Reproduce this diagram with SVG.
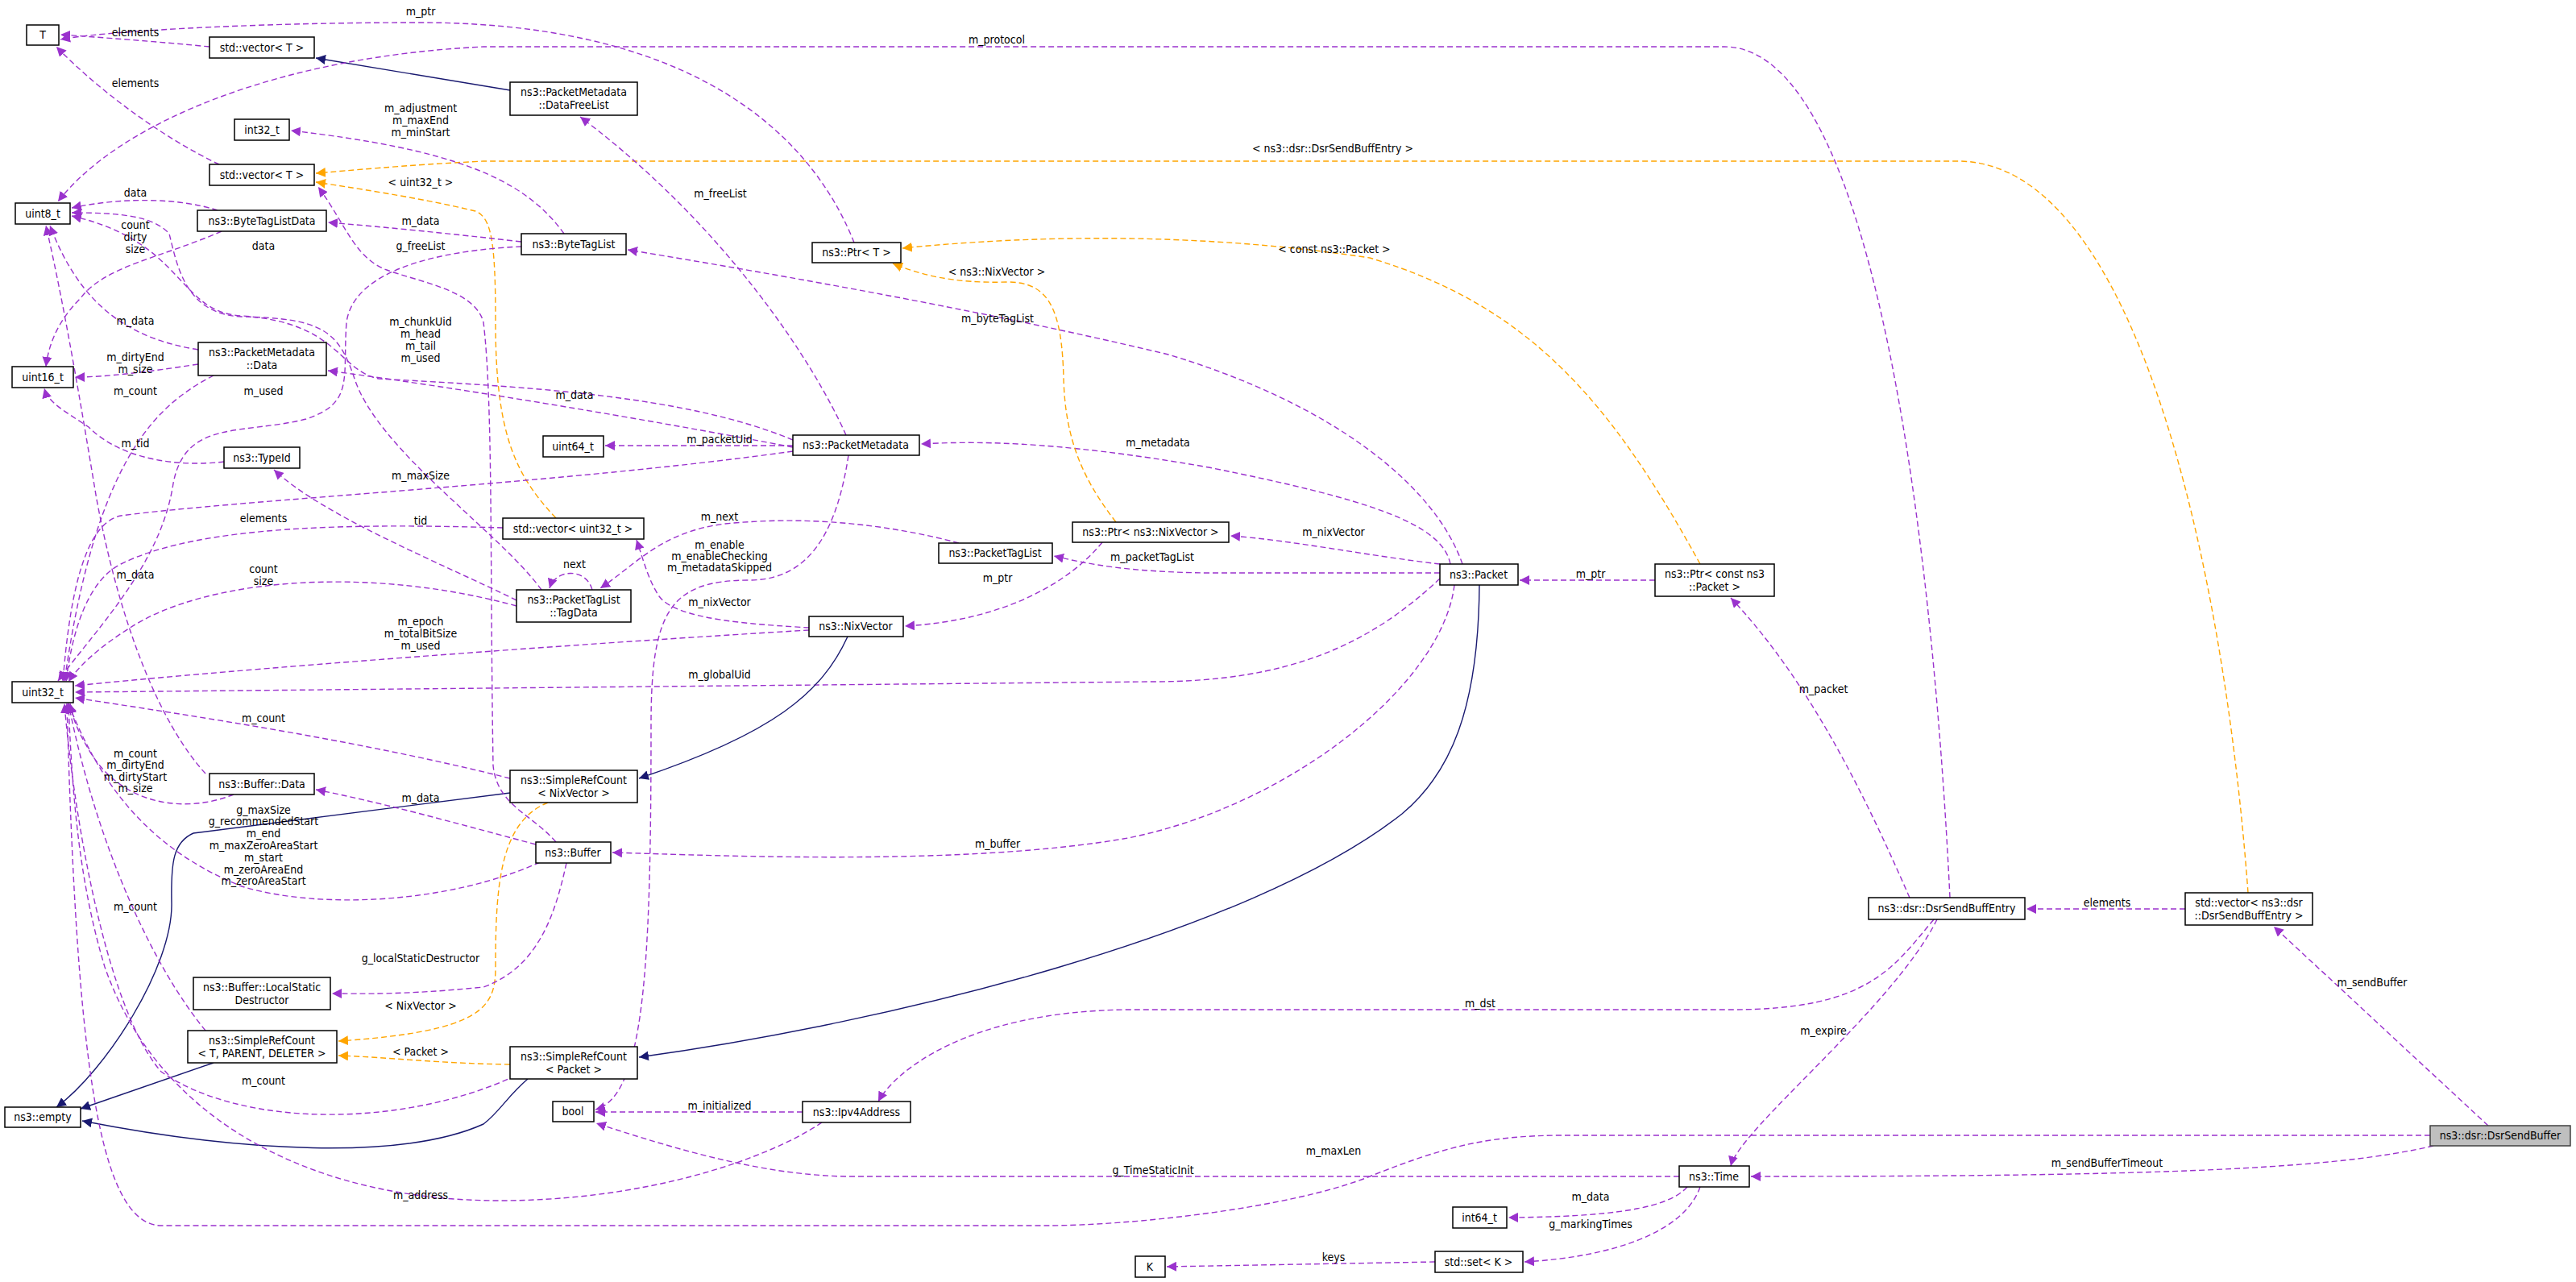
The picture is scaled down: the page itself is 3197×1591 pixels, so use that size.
<svg xmlns="http://www.w3.org/2000/svg" width="3197" height="1591" viewBox="0 0 3197 1591">
<style>
text{font-family:"DejaVu Sans Condensed","DejaVu Sans","Liberation Sans",sans-serif;font-stretch:condensed;font-size:14px;fill:#000;text-anchor:middle}
.n rect{fill:#fff;stroke:#000;stroke-width:1.5}
.g rect{fill:#bfbfbf;stroke:#404040;stroke-width:1.5}
.e path{fill:none;stroke-width:1.4}
.p{stroke:#9a32cd;stroke-dasharray:7,4}
.o{stroke:#ffa500;stroke-dasharray:7,4}
.v{stroke:#191970}
</style>
<defs>
<marker id="mp" viewBox="0 0 10 10" refX="10" refY="5" markerWidth="12" markerHeight="12" markerUnits="userSpaceOnUse" orient="auto"><path d="M0,0L10,5L0,10z" fill="#9a32cd"/></marker>
<marker id="mo" viewBox="0 0 10 10" refX="10" refY="5" markerWidth="12" markerHeight="12" markerUnits="userSpaceOnUse" orient="auto"><path d="M0,0L10,5L0,10z" fill="#ffa500"/></marker>
<marker id="mv" viewBox="0 0 10 10" refX="10" refY="5" markerWidth="12" markerHeight="12" markerUnits="userSpaceOnUse" orient="auto"><path d="M0,0L10,5L0,10z" fill="#191970"/></marker>
</defs>
<rect width="3197" height="1591" fill="#fff"/>
<g id="connectors" class="e">
<path class="p" marker-end="url(#mp)" d="M260,58 C200,52 120,46 75,43"/>
<path class="p" marker-end="url(#mp)" d="M272,204 C200,170 120,110 70,58"/>
<path class="v" marker-end="url(#mv)" d="M633,112 L392,72"/>
<path class="p" marker-end="url(#mp)" d="M1060,301 C1020,200 900,28 520,28 C300,28 120,40 75,49"/>
<path class="p" marker-end="url(#mp)" d="M2420,1114 C2400,700 2330,58 2140,58 L600,58 C350,70 150,150 72,250"/>
<path class="o" marker-end="url(#mo)" d="M2790,1108 C2760,700 2650,200 2430,200 L600,200 C500,205 430,212 392,215"/>
<path class="o" marker-end="url(#mo)" d="M690,643 C640,590 615,540 615,400 C615,300 610,270 590,262 C520,245 430,232 392,226"/>
<path class="p" marker-end="url(#mp)" d="M700,290 C650,220 560,185 361,162"/>
<path class="p" marker-end="url(#mp)" d="M647,300 C560,290 480,282 407,276"/>
<path class="p" marker-end="url(#mp)" d="M647,306 C560,310 440,330 430,400 C425,470 440,500 380,520 C300,540 230,520 215,600 C200,700 120,780 72,845"/>
<path class="p" marker-end="url(#mp)" d="M270,261 C220,245 150,245 89,258"/>
<path class="p" marker-end="url(#mp)" d="M275,287 C200,320 130,330 100,370 C70,400 60,430 57,455"/>
<path class="p" marker-end="url(#mp)" d="M246,434 C160,420 100,380 62,280"/>
<path class="p" marker-end="url(#mp)" d="M246,452 C180,462 130,468 93,468"/>
<path class="p" marker-end="url(#mp)" d="M265,466 C200,500 120,560 80,846"/>
<path class="p" marker-end="url(#mp)" d="M984,555 C800,520 560,480 407,460"/>
<path class="p" marker-end="url(#mp)" d="M984,546 C850,490 650,480 470,470 C420,460 420,400 300,392 C220,388 230,300 89,268"/>
<path class="p" marker-end="url(#mp)" d="M984,553 L751,553"/>
<path class="p" marker-end="url(#mp)" d="M984,560 C700,600 300,620 150,640 C100,650 85,760 78,846"/>
<path class="p" marker-end="url(#mp)" d="M1050,540 C1010,450 900,280 720,145"/>
<path class="p" marker-end="url(#mp)" d="M1053,565 C1040,650 1010,720 930,720 C830,720 808,760 808,900 C808,1200 800,1360 739,1377"/>
<path class="p" marker-end="url(#mp)" d="M1190,674 C1100,650 1000,640 900,650 C820,660 790,700 745,730"/>
<path class="p" marker-end="url(#mp)" d="M735,732 C728,705 690,705 682,730"/>
<path class="p" marker-end="url(#mp)" d="M1004,779 C940,775 840,770 818,740 C805,720 800,700 790,670"/>
<path class="p" marker-end="url(#mp)" d="M641,745 C550,700 400,640 340,583"/>
<path class="p" marker-end="url(#mp)" d="M641,752 C450,700 250,720 160,780 C120,805 95,830 85,846"/>
<path class="p" marker-end="url(#mp)" d="M624,655 C450,650 250,650 150,700 C110,720 90,780 82,846"/>
<path class="p" marker-end="url(#mp)" d="M1004,782 C700,800 300,830 93,851"/>
<path class="p" marker-end="url(#mp)" d="M1787,718 C1700,800 1600,846 1430,846 L93,859"/>
<path class="p" marker-end="url(#mp)" d="M1368,673 C1330,720 1250,770 1123,777"/>
<path class="p" marker-end="url(#mp)" d="M1787,700 C1700,690 1600,670 1527,665"/>
<path class="p" marker-end="url(#mp)" d="M1787,711 L1500,711 C1400,710 1350,700 1308,690"/>
<path class="p" marker-end="url(#mp)" d="M1800,700 C1790,650 1700,620 1500,580 C1300,545 1200,548 1143,551"/>
<path class="p" marker-end="url(#mp)" d="M1815,700 C1780,600 1650,500 1450,440 C1200,380 900,330 779,310"/>
<path class="o" marker-end="url(#mo)" d="M1385,648 C1340,590 1322,540 1320,470 C1318,380 1300,350 1250,350 C1180,352 1140,340 1108,327"/>
<path class="o" marker-end="url(#mo)" d="M2110,700 C2000,500 1900,380 1700,320 C1500,290 1300,290 1120,308"/>
<path class="p" marker-end="url(#mp)" d="M2054,720 L1886,720"/>
<path class="p" marker-end="url(#mp)" d="M1805,726 C1790,850 1600,1000 1400,1040 C1200,1075 900,1062 760,1058"/>
<path class="v" marker-end="url(#mv)" d="M1836,726 C1835,880 1800,960 1740,1010 C1550,1160 1100,1270 793,1312"/>
<path class="v" marker-end="url(#mv)" d="M633,984 L240,1034 C215,1045 212,1070 213,1120 C215,1200 130,1330 70,1374"/>
<path class="v" marker-end="url(#mv)" d="M1052,790 C1020,860 960,910 793,966"/>
<path class="v" marker-end="url(#mv)" d="M265,1319 L100,1376"/>
<path class="v" marker-end="url(#mv)" d="M655,1339 C630,1360 620,1380 600,1395 C500,1440 300,1430 102,1391"/>
<path class="o" marker-end="url(#mo)" d="M680,996 C620,1020 615,1100 615,1200 C615,1250 600,1280 420,1292"/>
<path class="o" marker-end="url(#mo)" d="M633,1321 C550,1320 480,1312 420,1310"/>
<path class="p" marker-end="url(#mp)" d="M255,1279 C190,1200 120,1050 85,873"/>
<path class="p" marker-end="url(#mp)" d="M640,1335 C500,1400 300,1400 200,1330 C130,1250 90,1000 80,873"/>
<path class="p" marker-end="url(#mp)" d="M633,966 C450,920 250,890 93,866"/>
<path class="p" marker-end="url(#mp)" d="M290,986 C230,1010 150,1000 110,930 C95,905 90,890 87,873"/>
<path class="p" marker-end="url(#mp)" d="M255,960 C200,900 150,780 120,620 C100,500 80,380 57,280"/>
<path class="p" marker-end="url(#mp)" d="M665,1048 C560,1020 470,995 392,980"/>
<path class="p" marker-end="url(#mp)" d="M670,1070 C560,1120 400,1130 300,1100 C200,1060 130,990 85,873"/>
<path class="p" marker-end="url(#mp)" d="M703,1071 C690,1130 670,1200 600,1225 C500,1235 450,1233 412,1233"/>
<path class="p" marker-end="url(#mp)" d="M690,1045 C660,1010 617,1000 612,950 C608,700 612,500 600,400 C590,360 520,350 480,335 C440,320 430,280 395,232"/>
<path class="p" marker-end="url(#mp)" d="M672,732 C620,660 470,560 440,470 C420,410 400,395 300,393 C230,390 220,330 210,290 C190,268 150,264 89,264"/>
<path class="p" marker-end="url(#mp)" d="M278,573 C220,580 150,570 110,530 C80,510 60,500 55,482"/>
<path class="p" marker-end="url(#mp)" d="M3088,1397 L2822,1150"/>
<path class="p" marker-end="url(#mp)" d="M2712,1128 L2515,1128"/>
<path class="p" marker-end="url(#mp)" d="M2370,1114 C2320,1000 2250,850 2148,742"/>
<path class="p" marker-end="url(#mp)" d="M2400,1141 C2350,1200 2320,1253 2150,1253 L1400,1253 C1200,1255 1110,1330 1090,1367"/>
<path class="p" marker-end="url(#mp)" d="M2404,1141 C2350,1250 2160,1400 2148,1447"/>
<path class="p" marker-end="url(#mp)" d="M3016,1409 L1935,1409 C1850,1410 1800,1420 1700,1460 C1600,1500 1400,1521 1300,1521 L200,1521 C120,1520 95,1300 83,873"/>
<path class="p" marker-end="url(#mp)" d="M3020,1422 C2900,1450 2700,1460 2173,1460"/>
<path class="p" marker-end="url(#mp)" d="M2084,1460 L1050,1460 C950,1458 850,1430 740,1394"/>
<path class="p" marker-end="url(#mp)" d="M996,1380 L739,1380"/>
<path class="p" marker-end="url(#mp)" d="M1020,1393 C950,1440 800,1490 620,1490 C400,1490 200,1400 130,1200 C100,1100 90,1000 85,873"/>
<path class="p" marker-end="url(#mp)" d="M2094,1473 C2070,1500 2000,1510 1872,1511"/>
<path class="p" marker-end="url(#mp)" d="M2110,1473 C2090,1530 2000,1560 1892,1566"/>
<path class="p" marker-end="url(#mp)" d="M1781,1566 L1448,1572"/>
</g>
<g id="labels">
<text x="168" y="45">elements</text>
<text x="168" y="108">elements</text>
<text x="522" y="19">m_ptr</text>
<text x="1237" y="54">m_protocol</text>
<text x="1654" y="189">&lt; ns3::dsr::DsrSendBuffEntry &gt;</text>
<text x="522" y="231">&lt; uint32_t &gt;</text>
<text x="522" y="139">m_adjustment</text><text x="522" y="154">m_maxEnd</text><text x="522" y="169">m_minStart</text>
<text x="522" y="279">m_data</text>
<text x="522" y="310">g_freeList</text>
<text x="327" y="490">m_used</text>
<text x="168" y="244">data</text>
<text x="168" y="284">count</text><text x="168" y="299">dirty</text><text x="168" y="314">size</text>
<text x="327" y="310">data</text>
<text x="168" y="403">m_data</text>
<text x="168" y="448">m_dirtyEnd</text><text x="168" y="463">m_size</text>
<text x="168" y="490">m_count</text>
<text x="713" y="495">m_data</text>
<text x="522" y="404">m_chunkUid</text><text x="522" y="419">m_head</text><text x="522" y="434">m_tail</text><text x="522" y="449">m_used</text>
<text x="893" y="550">m_packetUid</text>
<text x="522" y="595">m_maxSize</text>
<text x="894" y="245">m_freeList</text>
<text x="893" y="681">m_enable</text><text x="893" y="695">m_enableChecking</text><text x="893" y="709">m_metadataSkipped</text>
<text x="893" y="646">m_next</text>
<text x="713" y="705">next</text>
<text x="893" y="752">m_nixVector</text>
<text x="522" y="651">tid</text>
<text x="327" y="711">count</text><text x="327" y="726">size</text>
<text x="327" y="648">elements</text>
<text x="522" y="776">m_epoch</text><text x="522" y="791">m_totalBitSize</text><text x="522" y="806">m_used</text>
<text x="893" y="842">m_globalUid</text>
<text x="1238" y="722">m_ptr</text>
<text x="1655" y="665">m_nixVector</text>
<text x="1430" y="696">m_packetTagList</text>
<text x="1437" y="554">m_metadata</text>
<text x="1238" y="400">m_byteTagList</text>
<text x="1237" y="342">&lt; ns3::NixVector &gt;</text>
<text x="1656" y="314">&lt; const ns3::Packet &gt;</text>
<text x="1974" y="717">m_ptr</text>
<text x="1238" y="1052">m_buffer</text>
<text x="522" y="1253">&lt; NixVector &gt;</text>
<text x="522" y="1310">&lt; Packet &gt;</text>
<text x="168" y="1130">m_count</text>
<text x="327" y="1346">m_count</text>
<text x="327" y="896">m_count</text>
<text x="168" y="940">m_count</text><text x="168" y="954">m_dirtyEnd</text><text x="168" y="969">m_dirtyStart</text><text x="168" y="983">m_size</text>
<text x="168" y="718">m_data</text>
<text x="168" y="555">m_tid</text>
<text x="522" y="995">m_data</text>
<text x="327" y="1010">g_maxSize</text><text x="327" y="1024">g_recommendedStart</text><text x="327" y="1039">m_end</text><text x="327" y="1054">m_maxZeroAreaStart</text><text x="327" y="1069">m_start</text><text x="327" y="1084">m_zeroAreaEnd</text><text x="327" y="1098">m_zeroAreaStart</text>
<text x="522" y="1194">g_localStaticDestructor</text>
<text x="2944" y="1224">m_sendBuffer</text>
<text x="2615" y="1125">elements</text>
<text x="2263" y="860">m_packet</text>
<text x="1837" y="1250">m_dst</text>
<text x="2263" y="1284">m_expire</text>
<text x="1655" y="1433">m_maxLen</text>
<text x="2615" y="1448">m_sendBufferTimeout</text>
<text x="1431" y="1457">g_TimeStaticInit</text>
<text x="893" y="1377">m_initialized</text>
<text x="522" y="1488">m_address</text>
<text x="1974" y="1490">m_data</text>
<text x="1974" y="1524">g_markingTimes</text>
<text x="1655" y="1565">keys</text>
</g>
<g id="n_T" class="n"><rect x="33" y="31" width="40" height="25"/><text x="53" y="48">T</text></g>
<g id="n_vecT1" class="n"><rect x="260" y="46" width="130" height="26"/><text x="325" y="64">std::vector&lt; T &gt;</text></g>
<g id="n_dfl" class="n"><rect x="633" y="102" width="158" height="41"/><text x="712" y="119">ns3::PacketMetadata</text><text x="712" y="135">::DataFreeList</text></g>
<g id="n_int32" class="n"><rect x="291" y="148" width="68" height="26"/><text x="325" y="166">int32_t</text></g>
<g id="n_vecT2" class="n"><rect x="260" y="204" width="130" height="26"/><text x="325" y="222">std::vector&lt; T &gt;</text></g>
<g id="n_uint8" class="n"><rect x="19" y="252" width="68" height="26"/><text x="53" y="270">uint8_t</text></g>
<g id="n_btld" class="n"><rect x="245" y="261" width="160" height="26"/><text x="325" y="279">ns3::ByteTagListData</text></g>
<g id="n_btl" class="n"><rect x="647" y="290" width="130" height="26"/><text x="712" y="308">ns3::ByteTagList</text></g>
<g id="n_pmdata" class="n"><rect x="246" y="425" width="159" height="41"/><text x="325" y="442">ns3::PacketMetadata</text><text x="325" y="458">::Data</text></g>
<g id="n_uint16" class="n"><rect x="15" y="455" width="76" height="26"/><text x="53" y="473">uint16_t</text></g>
<g id="n_ptrT" class="n"><rect x="1008" y="301" width="110" height="25"/><text x="1063" y="318">ns3::Ptr&lt; T &gt;</text></g>
<g id="n_pm" class="n"><rect x="984" y="540" width="157" height="25"/><text x="1062" y="557">ns3::PacketMetadata</text></g>
<g id="n_uint64" class="n"><rect x="674" y="541" width="75" height="26"/><text x="711" y="559">uint64_t</text></g>
<g id="n_typeid" class="n"><rect x="278" y="555" width="94" height="26"/><text x="325" y="573">ns3::TypeId</text></g>
<g id="n_vecu32" class="n"><rect x="624" y="643" width="175" height="26"/><text x="711" y="661">std::vector&lt; uint32_t &gt;</text></g>
<g id="n_ptrnix" class="n"><rect x="1331" y="648" width="194" height="25"/><text x="1428" y="665">ns3::Ptr&lt; ns3::NixVector &gt;</text></g>
<g id="n_ptl" class="n"><rect x="1165" y="674" width="141" height="25"/><text x="1235" y="691">ns3::PacketTagList</text></g>
<g id="n_packet" class="n"><rect x="1787" y="700" width="97" height="26"/><text x="1835" y="718">ns3::Packet</text></g>
<g id="n_ptrcp" class="n"><rect x="2054" y="700" width="148" height="40"/><text x="2128" y="717">ns3::Ptr&lt; const ns3</text><text x="2128" y="733">::Packet &gt;</text></g>
<g id="n_tagdata" class="n"><rect x="641" y="732" width="142" height="40"/><text x="712" y="749">ns3::PacketTagList</text><text x="712" y="765">::TagData</text></g>
<g id="n_nix" class="n"><rect x="1004" y="765" width="117" height="25"/><text x="1062" y="782">ns3::NixVector</text></g>
<g id="n_uint32" class="n"><rect x="15" y="846" width="76" height="26"/><text x="53" y="864">uint32_t</text></g>
<g id="n_bufdata" class="n"><rect x="260" y="960" width="130" height="26"/><text x="325" y="978">ns3::Buffer::Data</text></g>
<g id="n_srcnix" class="n"><rect x="633" y="956" width="158" height="40"/><text x="712" y="973">ns3::SimpleRefCount</text><text x="712" y="989">&lt; NixVector &gt;</text></g>
<g id="n_buffer" class="n"><rect x="665" y="1045" width="93" height="26"/><text x="711" y="1063">ns3::Buffer</text></g>
<g id="n_dsrentry" class="n"><rect x="2319" y="1114" width="194" height="27"/><text x="2416" y="1132">ns3::dsr::DsrSendBuffEntry</text></g>
<g id="n_vecdsr" class="n"><rect x="2712" y="1108" width="158" height="40"/><text x="2791" y="1125">std::vector&lt; ns3::dsr</text><text x="2791" y="1141">::DsrSendBuffEntry &gt;</text></g>
<g id="n_lsd" class="n"><rect x="240" y="1213" width="170" height="40"/><text x="325" y="1230">ns3::Buffer::LocalStatic</text><text x="325" y="1246">Destructor</text></g>
<g id="n_srcT" class="n"><rect x="233" y="1279" width="185" height="40"/><text x="325" y="1296">ns3::SimpleRefCount</text><text x="325" y="1312">&lt; T, PARENT, DELETER &gt;</text></g>
<g id="n_srcpkt" class="n"><rect x="633" y="1299" width="158" height="40"/><text x="712" y="1316">ns3::SimpleRefCount</text><text x="712" y="1332">&lt; Packet &gt;</text></g>
<g id="n_empty" class="n"><rect x="6" y="1374" width="94" height="25"/><text x="53" y="1391">ns3::empty</text></g>
<g id="n_bool" class="n"><rect x="686" y="1367" width="51" height="25"/><text x="711" y="1384">bool</text></g>
<g id="n_ipv4" class="n"><rect x="996" y="1367" width="134" height="26"/><text x="1063" y="1385">ns3::Ipv4Address</text></g>
<g id="n_dsrbuf" class="g"><rect x="3016" y="1397" width="174" height="25"/><text x="3103" y="1414">ns3::dsr::DsrSendBuffer</text></g>
<g id="n_time" class="n"><rect x="2084" y="1447" width="87" height="26"/><text x="2127" y="1465">ns3::Time</text></g>
<g id="n_int64" class="n"><rect x="1803" y="1498" width="67" height="26"/><text x="1836" y="1516">int64_t</text></g>
<g id="n_setK" class="n"><rect x="1781" y="1553" width="109" height="26"/><text x="1835" y="1571">std::set&lt; K &gt;</text></g>
<g id="n_K" class="n"><rect x="1409" y="1559" width="37" height="26"/><text x="1427" y="1577">K</text></g>
</svg>
